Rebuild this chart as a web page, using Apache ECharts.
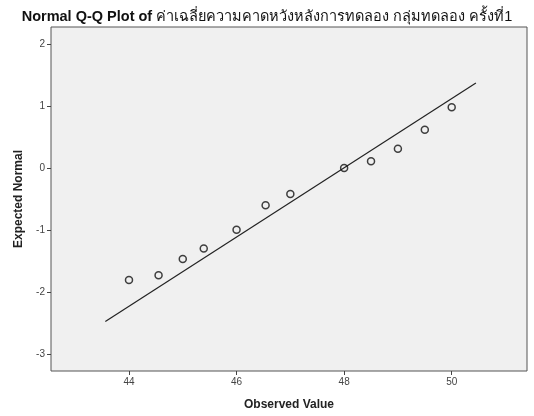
<!DOCTYPE html>
<html>
<head>
<meta charset="utf-8">
<script src="https://cdn.jsdelivr.net/npm/echarts@6/dist/echarts.min.js"></script>
<style>
html,body{margin:0;padding:0;background:#fff;}
#c{width:534px;height:416px;}
</style>
</head>
<body>
<div id="c"></div>
<script>
const observed = [44.0, 44.55, 45.0, 45.39, 46.0, 46.54, 47.0, 48.0, 48.5, 49.0, 49.5, 50.0];
const expectedNormal = [-1.81, -1.73, -1.47, -1.30, -0.995, -0.60, -0.42, 0.0, 0.11, 0.31, 0.62, 0.98];
// Reference line endpoints (as drawn)
const lineX = [43.56, 50.45];
const lineY = [-2.48, 1.374];
const xTicks = [44, 46, 48, 50];
const yTicks = [-3, -2, -1, 0, 1, 2];

const titleEn = 'Normal Q-Q Plot of ';
const titleTh = 'ค่าเฉลี่ยความคาดหวังหลังการทดลอง กลุ่มทดลอง ครั้งที่1';
const xName = 'Observed Value';
const yName = 'Expected Normal';

const font = '"Liberation Sans", Arial, "DejaVu Sans", sans-serif';

const chart = echarts.init(document.getElementById('c'), null, {renderer: 'canvas'});
chart.setOption({
  animation: false,
  backgroundColor: '#ffffff',
  textStyle: {fontFamily: font},
  title: {
    text: '{a|' + titleEn + '}{b|' + titleTh + '}',
    left: 'center',
    top: 4,
    textStyle: {
      rich: {
        a: {fontFamily: font, fontSize: 14.5, fontWeight: 'bold', color: '#111'},
        b: {fontFamily: font, fontSize: 14.5, fontWeight: 'normal', color: '#111'}
      }
    }
  },
  grid: {
    left: 51, top: 27, width: 476, height: 346,
    show: true,
    backgroundColor: '#f0f0f0',
    borderColor: '#555555',
    borderWidth: 1
  },
  xAxis: {
    type: 'value',
    min: 42.55, max: 51.40,
    name: xName,
    nameLocation: 'middle',
    nameGap: 28,
    nameTextStyle: {fontFamily: font, fontSize: 12, fontWeight: 'bold', color: '#222'},
    axisLine: {show: false, onZero: false},
    splitLine: {show: false},
    axisTick: {show: true, length: 4, lineStyle: {color: '#444'}, customValues: xTicks},
    axisLabel: {fontFamily: font, fontSize: 10, color: '#444', margin: 6, customValues: xTicks}
  },
  yAxis: {
    type: 'value',
    min: -3.278, max: 2.278,
    name: yName,
    nameLocation: 'middle',
    nameGap: 26,
    nameRotate: 90,
    nameTextStyle: {fontFamily: font, fontSize: 12, fontWeight: 'bold', color: '#222'},
    axisLine: {show: false, onZero: false},
    splitLine: {show: false},
    axisTick: {show: true, length: 4, lineStyle: {color: '#444'}, customValues: yTicks},
    axisLabel: {fontFamily: font, fontSize: 10, color: '#444', margin: 6, customValues: yTicks}
  },
  series: [
    {
      type: 'line',
      data: lineX.map((x, i) => [x, lineY[i]]),
      showSymbol: false,
      symbol: 'none',
      lineStyle: {color: '#222', width: 1.2},
      silent: true,
      z: 2
    },
    {
      type: 'scatter',
      data: observed.map((x, i) => [x, expectedNormal[i]]),
      symbol: 'circle',
      symbolSize: 7,
      itemStyle: {color: 'rgba(0,0,0,0)', borderColor: '#111', borderWidth: 1.5},
      z: 3
    }
  ]
});
</script>
</body>
</html>
